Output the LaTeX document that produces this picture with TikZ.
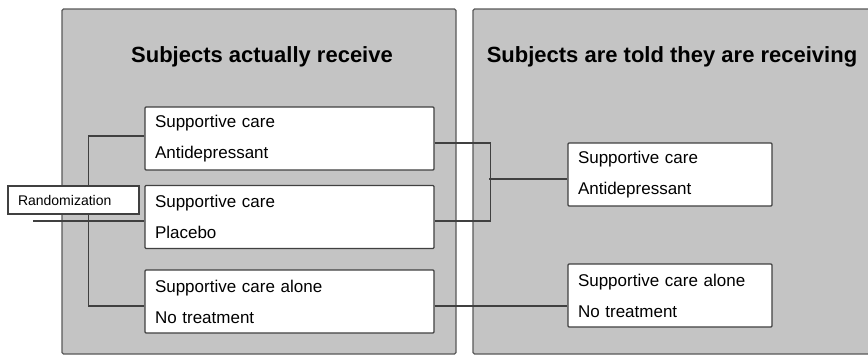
\documentclass[tikz,border=0pt]{standalone}
\usepackage{fontspec}
\setmainfont{Liberation Sans}
\begin{document}
\begin{tikzpicture}[x=1pt,y=-1pt,
  panel/.style={draw=black!65,fill=black!23,line width=1.2pt,rounded corners=1.5pt},
  paneltitle/.style={font=\fontsize{22}{26}\selectfont\bfseries},
  armbox/.style={draw=black!75,fill=white,line width=1.3pt,rounded corners=1pt,
    inner xsep=10pt,inner ysep=0pt,minimum height=63pt,align=left,
    font=\fontsize{17}{31}\selectfont,text width=#1},
  randbox/.style={draw=black!75,fill=white,line width=1.3pt,inner xsep=10pt,
    inner ysep=0pt,minimum height=28pt,align=left,text width=111pt,
    font=\fontsize{14}{16}\selectfont},
  link/.style={draw=black!75,line width=1.4pt}]
\useasboundingbox (0,0) rectangle (868,356);
%panels
\draw[panel] (62,9) rectangle (456,354);
\draw[panel] (473,9) rectangle (875,354);
\node[paneltitle] (lefttitle) at (262,57) {Subjects actually receive};
\node[paneltitle] (righttitle) at (672,57) {Subjects are told they are receiving};
%what they receive
\node[armbox=269pt] (gotdrug) at (289.5,138.5) {Supportive care\\Antidepressant};
\node[armbox=269pt] (gotplacebo) at (289.5,217) {Supportive care\\Placebo};
\node[armbox=269pt] (gotnone) at (289.5,301.5) {Supportive care alone\\No treatment};
%what they are told
\node[armbox=184pt] (tolddrug) at (670,174.5) {Supportive care\\Antidepressant};
\node[armbox=184pt] (toldnone) at (670,295.5) {Supportive care alone\\No treatment};
%lines
\coordinate (randin) at (33,221);
\draw[link] (randin) -- (randin -| gotplacebo.west);
\draw[link] ([yshift=2.5pt]gotdrug.west) -- ++(-56,0) |- ([yshift=-4.5pt]gotnone.west);
\draw[link] ([yshift=-4.5pt]gotdrug.east) -- ++(56,0) coordinate (join) |- ([yshift=-4pt]gotplacebo.east);
\draw[link] ([yshift=-4.5pt]tolddrug.west) -- ++(-78,0);
\draw[link] ([yshift=-4.5pt]gotnone.east) -- ([yshift=-4.5pt]gotnone.east -| toldnone.west);
%randomization on top of the fork
\node[randbox] (rand) at (73.5,200) {Randomization};
\end{tikzpicture}
\end{document}
